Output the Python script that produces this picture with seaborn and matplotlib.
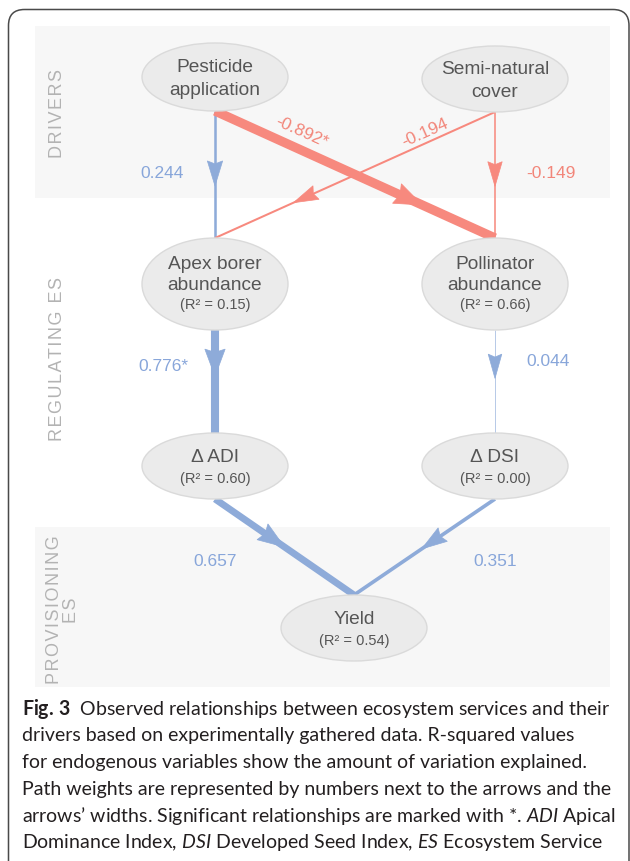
import numpy as np
import pandas as pd
import matplotlib
matplotlib.use("Agg")
import matplotlib.pyplot as plt
import seaborn as sns
from matplotlib.patches import Ellipse, Rectangle, FancyBboxPatch, Polygon

# ---------------- data ----------------
node_ids = ["pest", "semi", "apex", "poll", "adi", "dsi", "yield"]
node_titles = ["Pesticide\napplication", "Semi-natural\ncover", "Apex borer\nabundance",
               "Pollinator\nabundance", "Δ ADI", "Δ DSI", "Yield"]
node_r2 = [None, None, 0.15, 0.66, 0.60, 0.00, 0.54]

edge_source = ["pest", "pest", "semi", "semi", "apex", "poll", "adi", "dsi"]
edge_target = ["apex", "poll", "apex", "poll", "adi", "dsi", "yield", "yield"]
edge_weight = [0.244, -0.892, -0.194, -0.149, 0.776, 0.044, 0.657, 0.351]
edge_signif = [False, True, False, False, True, False, False, False]

section_labels = ["DRIVERS", "REGULATING ES", "PROVISIONING\nES"]

caption_lines = [
    r"$\mathbf{Fig.\,3}$  Observed relationships between ecosystem services and their",
    "drivers based on experimentally gathered data. R-squared values",
    "for endogenous variables show the amount of variation explained.",
    "Path weights are represented by numbers next to the arrows and the",
    r"arrows’ widths. Significant relationships are marked with *. $\mathit{ADI}$ Apical",
    r"Dominance Index, $\mathit{DSI}$ Developed Seed Index, $\mathit{ES}$ Ecosystem Service",
]

# ---------------- layout / style ----------------
node_xy = {"pest": (215, 78), "semi": (495, 80), "apex": (215, 285), "poll": (495, 285),
           "adi": (215, 467), "dsi": (495, 467), "yield": (354, 629)}
node_h = {"pest": 68, "semi": 66, "apex": 92, "poll": 92, "adi": 66, "dsi": 66, "yield": 66}
node_w = 146
arrow_frac = [0.59, 0.74, 0.72, 0.59, 0.45, 0.47, 0.50, 0.52]
label_pos = [(162, 174, 0), (302, 132, -24), (425, 133, 24), (551, 174, 0),
             (163, 367, 0), (548, 362, 0), (215, 562, 0), (495, 562, 0)]
section_pos = [(57, 113), (58, 359), (63, 610)]

BLUE_LINE, RED_LINE = "#8eabd9", "#f7897e"
BLUE_TXT, RED_TXT = "#88a6da", "#f2867a"
NODE_FILL, NODE_EDGE, NODE_TXT = "#ebebeb", "#dadada", "#555555"
BAND = "#f7f7f7"
CAP_FONT = "Lato"

sns.set_theme(style="white")
plt.rcParams["font.family"] = ["Liberation Sans", "DejaVu Sans"]
plt.rcParams["mathtext.fontset"] = "custom"
plt.rcParams["mathtext.rm"] = CAP_FONT
plt.rcParams["mathtext.it"] = CAP_FONT + ":italic"
plt.rcParams["mathtext.bf"] = CAP_FONT + ":bold"

W, H = 630, 862
fig = plt.figure(figsize=(W / 100, H / 100), dpi=100)
ax = fig.add_axes([0, 0, 1, 1])
ax.set_xlim(0, W)
ax.set_ylim(H, 0)
ax.axis("off")

# bands
ax.add_patch(Rectangle((35, 27), 575, 172, fc=BAND, ec="none", zorder=0))
ax.add_patch(Rectangle((35, 528), 575, 160, fc=BAND, ec="none", zorder=0))
# outer border
ax.add_patch(FancyBboxPatch((8.5, 10.5), 620.5, 880, boxstyle="round,pad=0,rounding_size=16",
                            fc="none", ec="#4a4a4a", lw=1.1, zorder=1, clip_on=False))

# section labels
for lab, (sx, sy) in zip(section_labels, section_pos):
    spaced = "\n".join("\u200a".join(list(part)) for part in lab.split("\n"))
    ax.text(sx, sy, spaced, rotation=90, ha="center", va="center", multialignment="center",
            fontsize=13, color="#b3b3b3", linespacing=1.05, zorder=2)

# edges
for i, (s, t, w) in enumerate(zip(edge_source, edge_target, edge_weight)):
    x0, y0 = node_xy[s][0], node_xy[s][1] + node_h[s] / 2
    x1, y1 = node_xy[t][0], node_xy[t][1] - node_h[t] / 2
    col = BLUE_LINE if w > 0 else RED_LINE
    lw = max(7.5 * abs(w), 0.45)
    df = pd.DataFrame({"x": [x0, x1], "y": [y0, y1]})
    sns.lineplot(data=df, x="x", y="y", ax=ax, color=col, linewidth=lw, estimator=None,
                 sort=False, legend=False, zorder=2, solid_capstyle="butt")
    p0, p1 = np.array([x0, y0]), np.array([x1, y1])
    u = (p1 - p0) / np.linalg.norm(p1 - p0)
    n = np.array([-u[1], u[0]])
    lw_px = lw * 100 / 72
    L = 24 + 0.4 * lw_px
    hw = 6.5 + 0.45 * lw_px
    tip = p0 + arrow_frac[i] * (p1 - p0)
    base = tip - L * u
    pts = [tip, base + hw * n, base + 0.12 * L * u, base - hw * n]
    ax.add_patch(Polygon(pts, closed=True, fc=col, ec=col, lw=0.5, zorder=2.5))
    lx, ly, rot = label_pos[i]
    txt = f"{w:.3f}" + ("*" if edge_signif[i] else "")
    ax.text(lx, ly, txt, ha="center", va="center", rotation=rot, rotation_mode="anchor",
            fontsize=12.5, color=BLUE_TXT if w > 0 else RED_TXT, zorder=4)

# nodes
for nid, title, r2 in zip(node_ids, node_titles, node_r2):
    cx, cy = node_xy[nid]
    ax.add_patch(Ellipse((cx, cy), node_w, node_h[nid], fc=NODE_FILL, ec=NODE_EDGE, lw=1.0, zorder=3))
    nlines = title.count("\n") + 1
    if r2 is None:
        ax.text(cx, cy + 1, title, ha="center", va="center", fontsize=13.8, color=NODE_TXT,
                linespacing=1.45, zorder=4)
    else:
        if nlines == 2:
            ty, ry = cy - 10, cy + 20
        else:
            ty, ry = cy - 9, cy + 12
        ax.text(cx, ty, title, ha="center", va="center", fontsize=13.8, color=NODE_TXT,
                linespacing=1.35, zorder=4)
        ax.text(cx, ry, f"(R² = {r2:.2f})", ha="center", va="center", fontsize=10.5,
                color=NODE_TXT, zorder=4)

# caption
fig.canvas.draw()
renderer = fig.canvas.get_renderer()
probe = ax.text(22, 709, caption_lines[0], fontsize=14, family=CAP_FONT)
wpx = probe.get_window_extent(renderer).width
probe.remove()
cap_size = 14 * 590 / wpx
for k, line in enumerate(caption_lines):
    ax.text(22, 709 + 26.8 * k, line, ha="left", va="center", fontsize=cap_size,
            family=CAP_FONT, color="#231f20", zorder=4)

fig.savefig("out.png", dpi=100)
